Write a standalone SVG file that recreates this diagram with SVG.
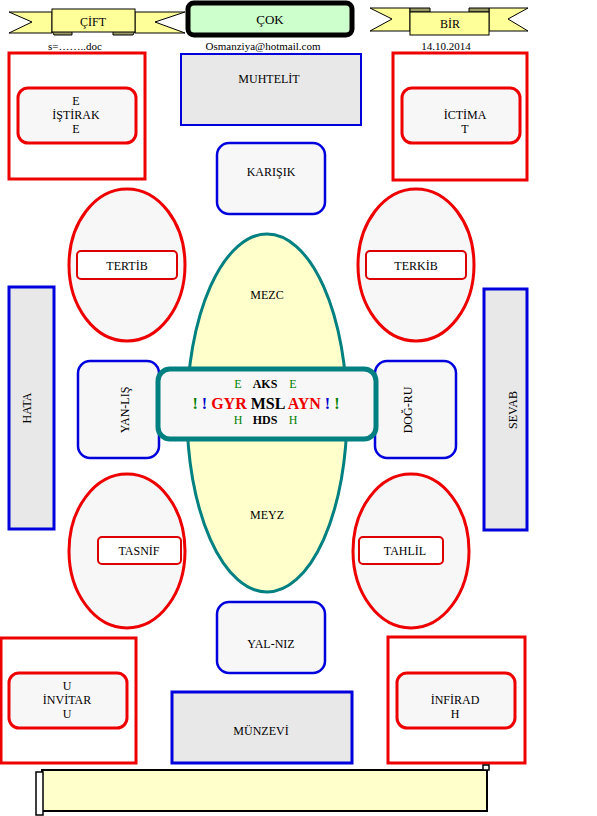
<svg xmlns="http://www.w3.org/2000/svg" width="597" height="816" viewBox="0 0 597 816">
<style>
text{font-size:12px;fill:#000;text-anchor:middle}
.rib{fill:#ffff99;stroke:#000;stroke-width:1}
.fold{fill:#999966;stroke:#000;stroke-width:1}
.redbox{fill:#fff;stroke:#ee0000;stroke-width:3}
.redin{fill:#f7f7f7;stroke:#ee0000;stroke-width:3}
.redell{fill:#f7f7f7;stroke:#ee0000;stroke-width:3}
.redlbl{fill:#fff;stroke:#dd0000;stroke-width:2}
.bluebox{fill:#e8e8e8;stroke:#0000dd;stroke-width:3}
.bluer{fill:#f7f7f7;stroke:#0000dd;stroke-width:2.5}
.b{font-weight:bold}
.g{fill:#008000}
.r{fill:#ee0000}
.bl{fill:#0000cc}
</style>
<g font-family="Liberation Serif, DejaVu Serif, serif">
<g id="cift">
<polygon class="rib" points="9,12 52,12 52,33 9,33 32,22"/>
<polygon class="rib" points="185,12 135,12 135,33 185,33 155,22"/>
<polygon class="fold" points="52,31 72,31 72,35 54,35"/>
<polygon class="fold" points="113,31 135,31 133,35 113,35"/>
<rect class="rib" x="52" y="9" width="83" height="23"/>
<text x="93" y="26">ÇİFT</text>
</g>
<g id="cok">
<rect x="188" y="3" width="164" height="32" rx="6" fill="#ccffcc" stroke="#000" stroke-width="5"/>
<text x="270" y="24" style="font-size:13px">ÇOK</text>
</g>
<g id="bir">
<polygon class="rib" points="370,8 410,8 410,31 370,31 392,19"/>
<polygon class="rib" points="528,8 489,8 489,31 528,31 508,19"/>
<polygon class="fold" points="410,8 430,8 430,12 410,12"/>
<polygon class="fold" points="469,8 489,8 489,12 469,12"/>
<rect class="rib" x="410" y="12" width="79" height="23"/>
<text x="450" y="28">BİR</text>
</g>
<g id="header-texts">
<text x="75" y="50" style="font-size:11px">s=……..doc</text>
<text x="263" y="50" style="font-size:11px">Osmanziya@hotmail.com</text>
<text x="446" y="50" style="font-size:11px">14.10.2014</text>
</g>
<g id="connectors"></g>
<g id="istirake">
<rect class="redbox" x="9" y="53" width="136" height="126"/>
<rect class="redin" x="18" y="88" width="118" height="55" rx="10"/>
<text x="76" y="105">E</text>
<text x="76" y="119">İŞTİRAK</text>
<text x="76" y="133">E</text>
</g>
<g id="muhtelit">
<rect class="bluebox" x="181" y="54" width="180" height="71" style="stroke-width:2"/>
<text x="269" y="83">MUHTELİT</text>
</g>
<g id="ictimat">
<rect class="redbox" x="393" y="53" width="134" height="127"/>
<rect class="redin" x="402" y="88" width="118" height="55" rx="10"/>
<text x="465" y="119">İCTİMA</text>
<text x="465" y="133">T</text>
</g>
<g id="karisik">
<rect class="bluer" x="217" y="143" width="108" height="71" rx="12"/>
<text x="271" y="176">KARIŞIK</text>
</g>
<g id="tertib">
<ellipse class="redell" cx="127" cy="265" rx="58" ry="76"/>
<rect class="redlbl" x="77" y="251" width="100" height="28" rx="4"/>
<text x="127" y="270">TERTİB</text>
</g>
<g id="terkib">
<ellipse class="redell" cx="416" cy="265" rx="58" ry="76"/>
<rect class="redlbl" x="366" y="251" width="100" height="28" rx="4"/>
<text x="416" y="270">TERKİB</text>
</g>
<g id="mezc-meyz">
<ellipse cx="267" cy="413" rx="80" ry="179" fill="#ffffcc" stroke="#008080" stroke-width="3"/>
<text x="267" y="299">MEZC</text>
<text x="267" y="519">MEYZ</text>
</g>
<g id="hata">
<rect class="bluebox" x="9" y="287" width="45" height="242"/>
<text transform="translate(31,408) rotate(-90)">HATA</text>
</g>
<g id="sevab">
<rect class="bluebox" x="484" y="289" width="43" height="241"/>
<text transform="translate(517,410) rotate(-90)">SEVAB</text>
</g>
<g id="yanlis">
<rect class="bluer" x="78" y="361" width="81" height="97" rx="12"/>
<text transform="translate(129,410) rotate(-90)">YAN-LIŞ</text>
</g>
<g id="dogru">
<rect class="bluer" x="375" y="361" width="81" height="97" rx="12"/>
<text transform="translate(412,410) rotate(-90)">DOĞ-RU</text>
</g>
<g id="center">
<rect x="158" y="369" width="218" height="70" rx="12" fill="#f7f7f7" stroke="#008080" stroke-width="5"/>
<text class="b" y="388" style="font-size:12px"><tspan class="g" x="238" style="font-weight:normal">E</tspan><tspan x="265">AKS</tspan><tspan class="g" x="293" style="font-weight:normal">E</tspan></text>
<text class="b" x="266" y="409" style="font-size:16px"><tspan class="g">!</tspan> <tspan class="bl">!</tspan> <tspan class="r">GYR</tspan> MSL <tspan class="r">AYN</tspan> <tspan class="bl">!</tspan> <tspan class="g">!</tspan></text>
<text class="b" y="424" style="font-size:12px"><tspan class="g" x="238" style="font-weight:normal">H</tspan><tspan x="265">HDS</tspan><tspan class="g" x="293" style="font-weight:normal">H</tspan></text>
</g>
<g id="tasnif">
<ellipse class="redell" cx="127" cy="551" rx="58" ry="77"/>
<rect class="redlbl" x="98" y="537" width="83" height="27" rx="4"/>
<text x="139" y="555">TASNİF</text>
</g>
<g id="tahlil">
<ellipse class="redell" cx="411" cy="551" rx="58" ry="77"/>
<rect class="redlbl" x="359" y="537" width="84" height="27" rx="4"/>
<text x="405" y="555">TAHLİL</text>
</g>
<g id="yalniz">
<rect class="bluer" x="217" y="602" width="108" height="71" rx="12"/>
<text x="271" y="648">YAL-NIZ</text>
</g>
<g id="unvitaru">
<rect class="redbox" x="1" y="638" width="135" height="125"/>
<rect class="redin" x="9" y="673" width="118" height="55" rx="10"/>
<text x="67" y="690">U</text>
<text x="67" y="704">İNVİTAR</text>
<text x="67" y="718">U</text>
</g>
<g id="munzevi">
<rect class="bluebox" x="172" y="692" width="180" height="71"/>
<text x="261" y="735">MÜNZEVİ</text>
</g>
<g id="infiradh">
<rect class="redbox" x="388" y="637" width="137" height="126"/>
<rect class="redin" x="397" y="673" width="118" height="55" rx="10"/>
<text x="455" y="704">İNFİRAD</text>
<text x="455" y="718">H</text>
</g>
<g id="scroll">
<rect x="42" y="770" width="445" height="41" fill="#ffffcc" stroke="#000" stroke-width="2"/>
<rect x="36" y="772" width="7" height="43" fill="#fff" stroke="#000" stroke-width="1.5"/>
<rect x="483" y="765" width="6" height="5" fill="#fff" stroke="#000" stroke-width="1.5"/>
</g>
</g>
</svg>
